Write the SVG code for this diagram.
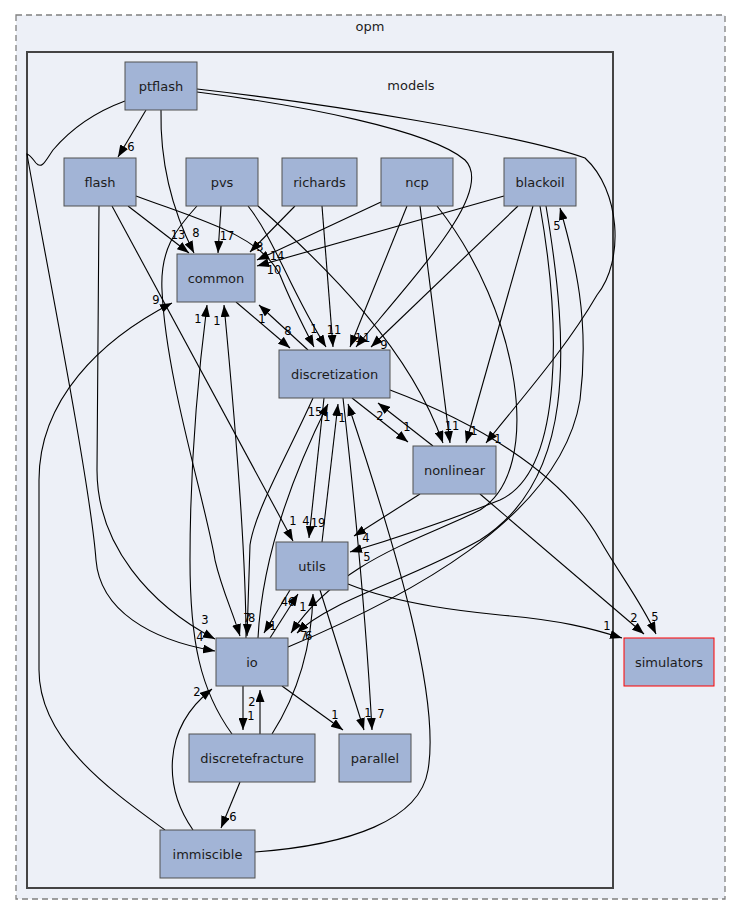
<svg xmlns="http://www.w3.org/2000/svg" width="741" height="916" viewBox="0 0 741 916">
<style>
.n rect{fill:#a2b4d6;stroke:#505050;stroke-width:1}
.n text{font-family:"DejaVu Sans",sans-serif;font-size:13px;fill:#1c1c1c;text-anchor:middle}
.e path{fill:none;stroke:#000;stroke-width:1.1;marker-end:url(#ah)}
.l text{font-family:"DejaVu Sans",sans-serif;font-size:11.5px;fill:#000;text-anchor:middle}
.c{font-family:"DejaVu Sans",sans-serif;font-size:13px;fill:#1c1c1c;text-anchor:middle}
</style>
<defs>
<marker id="ah" viewBox="0 0 12 9" refX="12" refY="4.5" markerUnits="userSpaceOnUse" markerWidth="12" markerHeight="9" orient="auto"><path d="M0,0 L12,4.5 L0,9 z" fill="#000"/></marker>
</defs>
<rect width="741" height="916" fill="#fff"/>
<g id="cluster_opm">
<rect x="16" y="15" width="709" height="884" fill="#edf0f7" stroke="#808080" stroke-width="1.3" stroke-dasharray="6,4"/>
<text class="c" x="370" y="31">opm</text>
</g>
<g id="cluster_models">
<rect x="27" y="52" width="586" height="836" fill="#edf0f7" stroke="#444" stroke-width="2"/>
<text class="c" x="411" y="90">models</text>
</g>
<g id="edges" class="e">
<path d="M146,110 L118,157"/>
<path d="M161,110 C160,160 172,210 194,253"/>
<path d="M125,101 C95,112 70,130 53,150 C46,160 42,170 36,163 C32,158 30,155 27,154 C40,230 90,480 96,560 C100,610 150,640 215,651"/>
<path d="M197,92 C300,105 430,130 465,160 C495,190 420,270 356,347"/>
<path d="M197,89 C330,104 520,135 585,158 C620,190 625,260 597,295 C565,350 520,400 486,443"/>
<path d="M128,206 L189,253"/>
<path d="M136,196 C200,220 260,235 280,275 C290,300 300,320 314,347"/>
<path d="M112,206 L293,541"/>
<path d="M99,206 L97,470 C97,545 150,605 215,639"/>
<path d="M221,206 L218,253"/>
<path d="M197,206 C175,230 160,250 162,290 C166,380 205,500 215,560 C222,590 232,610 240,636"/>
<path d="M248,206 C275,240 290,290 326,347"/>
<path d="M258,206 C330,270 410,350 443,443"/>
<path d="M295,206 L250,252"/>
<path d="M322,206 L333,347"/>
<path d="M381,202 L257,260"/>
<path d="M407,206 L350,347"/>
<path d="M420,206 L450,443"/>
<path d="M437,206 C520,310 545,470 480,510 C420,540 340,560 291,633"/>
<path d="M504,196 L257,266"/>
<path d="M518,206 L371,347"/>
<path d="M533,206 L466,443"/>
<path d="M540,206 C560,320 565,470 500,500 C450,520 390,540 350,552"/>
<path d="M546,206 C570,350 575,480 480,540 C410,580 330,600 297,633"/>
<path d="M288,647 C400,600 560,520 580,400 C590,320 575,260 560,208"/>
<path d="M236,302 L290,348"/>
<path d="M308,350 L259,305"/>
<path d="M246,638 C246,560 235,420 224,305"/>
<path d="M232,734 C200,690 190,640 190,560 C190,450 200,360 207,305"/>
<path d="M313,398 C290,450 255,510 250,545 L247,636"/>
<path d="M258,638 C262,560 290,480 328,404"/>
<path d="M324,398 L309,538"/>
<path d="M322,542 L338,404"/>
<path d="M352,398 L408,442"/>
<path d="M433,446 L378,403"/>
<path d="M390,390 C470,420 560,470 600,540 C620,575 640,600 656,634"/>
<path d="M343,398 C350,460 365,600 372,730"/>
<path d="M255,852 C350,845 420,820 428,770 C440,700 400,560 348,404"/>
<path d="M420,494 L354,536"/>
<path d="M480,494 L644,634"/>
<path d="M290,590 L264,633"/>
<path d="M270,638 L298,594"/>
<path d="M320,590 L364,730"/>
<path d="M348,584 C400,605 470,612 500,615 C560,620 590,628 622,638"/>
<path d="M243,686 L243,730"/>
<path d="M282,686 L343,730"/>
<path d="M260,734 L260,690"/>
<path d="M272,734 C300,690 312,640 313,594"/>
<path d="M240,782 L221,828"/>
<path d="M193,830 C165,790 160,730 212,689"/>
<path d="M165,830 C110,790 39,740 39,670 L39,480 C39,400 100,340 172,303"/>
</g>
<g id="labels" class="l">
<text x="131" y="151">6</text>
<text x="196" y="237">8</text>
<text x="178" y="239">13</text>
<text x="227" y="240">17</text>
<text x="156" y="304">9</text>
<text x="198" y="323">1</text>
<text x="217" y="325">1</text>
<text x="260" y="251">3</text>
<text x="277" y="260">14</text>
<text x="274" y="274">10</text>
<text x="262" y="323">1</text>
<text x="288" y="335">8</text>
<text x="314" y="333">1</text>
<text x="334" y="334">11</text>
<text x="363" y="342" letter-spacing="1">11</text>
<text x="384" y="349">9</text>
<text x="315" y="416">15</text>
<text x="327" y="421">1</text>
<text x="342" y="422">1</text>
<text x="380" y="420">2</text>
<text x="407" y="431">1</text>
<text x="452" y="430">11</text>
<text x="474" y="435">1</text>
<text x="498" y="443">1</text>
<text x="293" y="525">1</text>
<text x="306" y="525">4</text>
<text x="318" y="527">19</text>
<text x="366" y="542">4</text>
<text x="367" y="561">5</text>
<text x="288" y="606">46</text>
<text x="303" y="611">1</text>
<text x="248" y="622" letter-spacing="-2.5">78</text>
<text x="273" y="630">1</text>
<text x="305" y="640" letter-spacing="-2.5">76</text>
<text x="205" y="624">3</text>
<text x="200" y="641">4</text>
<text x="197" y="696">2</text>
<text x="252" y="706">2</text>
<text x="251" y="720">1</text>
<text x="335" y="719">1</text>
<text x="368" y="717">1</text>
<text x="381" y="718">7</text>
<text x="607" y="630">1</text>
<text x="634" y="622">2</text>
<text x="655" y="621">5</text>
<text x="233" y="821">6</text>
<text x="557" y="230">5</text>
</g>
<g id="ptflash" class="n"><rect x="125" y="62" width="72" height="48"/><text x="161" y="90.5">ptflash</text></g>
<g id="flash" class="n"><rect x="64" y="158" width="72" height="48"/><text x="100" y="186.5">flash</text></g>
<g id="pvs" class="n"><rect x="186" y="158" width="72" height="48"/><text x="222" y="186.5">pvs</text></g>
<g id="richards" class="n"><rect x="282" y="158" width="75" height="48"/><text x="319.5" y="186.5">richards</text></g>
<g id="ncp" class="n"><rect x="381" y="158" width="72" height="48"/><text x="417" y="186.5">ncp</text></g>
<g id="blackoil" class="n"><rect x="504" y="158" width="72" height="48"/><text x="540" y="186.5">blackoil</text></g>
<g id="common" class="n"><rect x="177" y="254" width="78" height="48"/><text x="216" y="282.5">common</text></g>
<g id="discretization" class="n"><rect x="279" y="350" width="111" height="48"/><text x="334.5" y="378.5">discretization</text></g>
<g id="nonlinear" class="n"><rect x="413" y="446" width="83" height="48"/><text x="454.5" y="474.5">nonlinear</text></g>
<g id="utils" class="n"><rect x="276" y="542" width="72" height="48"/><text x="312" y="570.5">utils</text></g>
<g id="io" class="n"><rect x="216" y="638" width="72" height="48"/><text x="252" y="666.5">io</text></g>
<g id="discretefracture" class="n"><rect x="189" y="734" width="126" height="48"/><text x="252" y="762.5">discretefracture</text></g>
<g id="parallel" class="n"><rect x="339" y="734" width="72" height="48"/><text x="375" y="762.5">parallel</text></g>
<g id="immiscible" class="n"><rect x="160" y="830" width="95" height="48"/><text x="207.5" y="858.5">immiscible</text></g>
<g id="simulators" class="n"><rect x="624" y="638" width="90" height="48" style="stroke:#ff0000"/><text x="669" y="666.5">simulators</text></g>
</svg>
